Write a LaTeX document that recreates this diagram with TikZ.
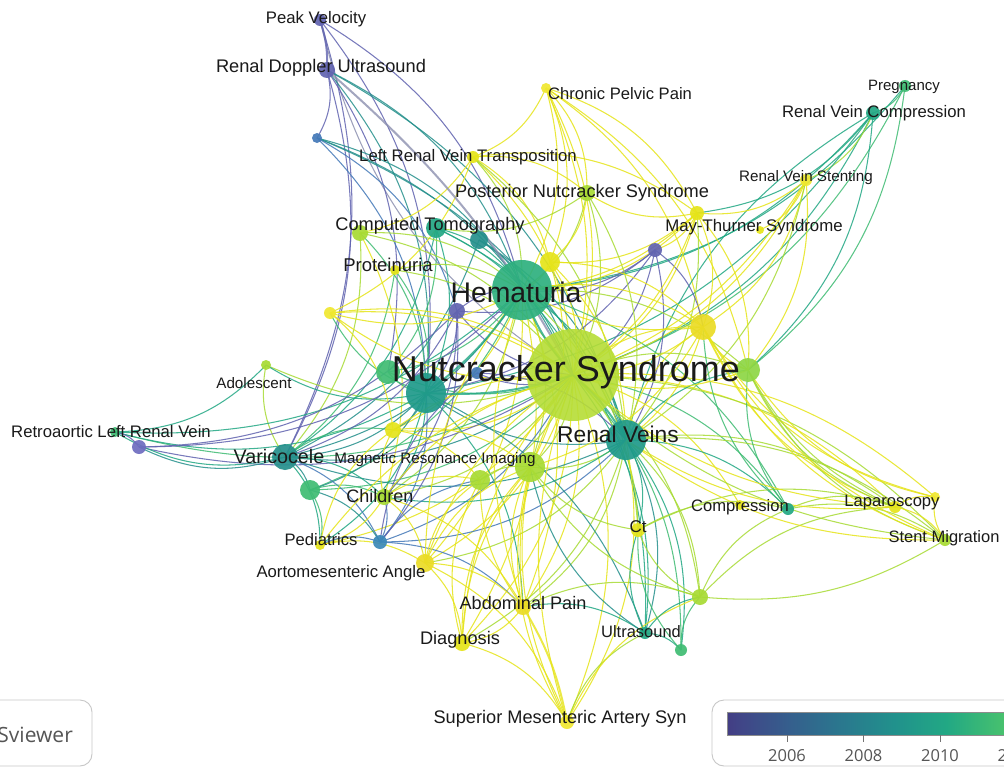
\documentclass[tikz,border=0pt]{standalone}
\usepackage{fontspec}
\setmainfont{Liberation Sans}
\newfontfamily\legfont{Open Sans}
\usetikzlibrary{backgrounds}
\newcommand\myfs[1]{\fontsize{#1}{#1}\selectfont}
\definecolor{cP}{HTML}{6163B0}
\definecolor{cP2}{HTML}{6E6CC0}
\definecolor{cB}{HTML}{4479B8}
\definecolor{cB2}{HTML}{3B88B8}
\definecolor{cT}{HTML}{25908C}
\definecolor{cT2}{HTML}{1F9A8A}
\definecolor{cTG}{HTML}{22A884}
\definecolor{cHem}{HTML}{2EB07E}
\definecolor{cG}{HTML}{3FBC73}
\definecolor{cGY}{HTML}{8ED645}
\definecolor{cYG}{HTML}{A8DB34}
\definecolor{cY}{HTML}{E6E419}
\definecolor{cY2}{HTML}{EBDC25}
\definecolor{cLY}{HTML}{F0E830}
\definecolor{cGray}{HTML}{8C90B0}
\definecolor{cNS}{HTML}{B6DD36}
\definecolor{txt}{HTML}{1A1A1A}
\definecolor{leg}{HTML}{555555}
\definecolor{v0}{HTML}{433D84}
\definecolor{v1}{HTML}{414487}
\definecolor{v2}{HTML}{355F8D}
\definecolor{v3}{HTML}{2A788E}
\definecolor{v4}{HTML}{21918C}
\definecolor{v5}{HTML}{22A884}
\definecolor{v6}{HTML}{44BF70}
\definecolor{v7}{HTML}{7AD151}
\tikzset{
  nd/.style={circle,inner sep=0pt,draw=none,fill opacity=0.92},
  lk/.style={line width=1.05pt,draw opacity=0.85},
  lkk/.style={line width=2pt,draw opacity=0.8},
  lb/.style={inner sep=0pt,text=txt},
  legbox/.style={draw=black!22,line width=0.9pt,rounded corners=12pt,fill=white}
}
\begin{document}
\begin{tikzpicture}[x=1pt,y=-1pt]
\useasboundingbox (0,0) rectangle (1004,768);
% nodes
\foreach \n/\x/\y/\r/\c in {
 hem/522/290/30/cHem, rv/626/440/20/cT2, var/285/457/13/cT, tl/426/393/20/cT2,
 gl/388/372/12/cG, pu1/457/311/8/cP, pu2/477/373/6/cB, y1/550/262/10/cY,
 tt/479/240/9/cT, ct1/436/228/10/cTG, ct0/360/233/8/cYG, prot/395/270/5/cY,
 lrvt/473/157/6/cY, pns/587/193/8/cYG, pv/320/20/6/cP, rdu/327/70/8/cP,
 bla/317/138/5/cB, cpp/546/88/5/cLY, preg/905/86/6/cG, rvc/873/113/7/cTG,
 rvs/806/180/6/cLY, mts/697/213/7/cY, mtsb/760/230/4/cY, pu3/655/250/7/cP,
 ya/703/327/13/cY2, gy/748/370/12/cGY, yc/330/313/6/cLY, adol/266/365/5/cYG,
 rlrv/115/432/5/cG, pu4/139/447/7/cP2, mria/393/430/8/cY, mrib/480/480/10/cYG,
 mric/530/467/15/cYG, chil/384/497/8/cYG, gc/310/490/10/cG, ped/320/545/5/cY,
 blb/380/542/7/cB2, aa/425/563/9/cY2, ap/523/607/8/cY2, diag/462/643/8/cY,
 sma/567/722/7/cLY, us/645/633/6/cTG, gg/681/650/6/cG, ygb/700/597/8/cYG,
 ctn/638/530/7/cY, comp/788/509/6/cTG, compy/740/505/5/cY, lap/895/507/6/cY,
 lapb/935/497/5/cLY, sm/945/540/6/cYG}
 {\node[nd,fill=\c,minimum size=2*\r] (\n) at (\x,\y) {};}
\node[nd,fill=cNS,minimum size=92,fill opacity=0.9] (ns) at (573,375) {};
% edges
\begin{scope}[on background layer]
\fill[white] (0,0) rectangle (1004,768);
\foreach \a/\b/\c in {
 pv/hem/cP, pv/tl/cP, pv/var/cP, ns/pv/cGray,
 rdu/hem/cT, rdu/tl/cT, rdu/var/cP, rdu/bla/cP, rdu/rv/cT, rdu/gl/cP,
 bla/hem/cT, bla/ns/cT, bla/tl/cB, bla/rv/cT, bla/pu1/cB,
 cpp/lrvt/cY, cpp/ns/cY, cpp/mts/cY, cpp/ya/cY, cpp/hem/cY, cpp/pns/cY, cpp/gy/cY, cpp/y1/cY,
 lrvt/ns/cY, lrvt/hem/cYG, lrvt/pns/cY, lrvt/yc/cY, lrvt/ct0/cY, lrvt/y1/cY, lrvt/rv/cYG, lrvt/mts/cY,
 preg/rvc/cG, preg/ns/cG, preg/hem/cTG, preg/gy/cG,
 rvc/ns/cTG, rvc/hem/cTG, rv/rvc/cTG, rvc/gy/cTG, rvc/mts/cTG, rvc/rvs/cYG, rvc/tl/cTG,
 rvs/mts/cY, rvs/ns/cY, rvs/ya/cY, rvs/rv/cYG, rvs/mtsb/cY, rvs/gy/cY,
 mts/ns/cY, mts/ya/cY, mts/hem/cY, mts/pns/cY, mts/rv/cYG, mts/gy/cY, mts/y1/cY, mts/pu3/cY,
 pu3/ns/cP, pu3/hem/cP, pu3/pu1/cP, pu3/rv/cP, pu3/ya/cP, pu3/tl/cP,
 pns/ns/cYG, pns/hem/cYG, pns/rv/cYG, pns/y1/cY, pns/ct1/cYG,
 ct1/ns/cTG, ct1/hem/cTG, ct1/tl/cTG, ct1/var/cTG, ct1/rv/cTG, ct1/gl/cG,
 ct0/ns/cYG, ct0/hem/cYG, ct0/var/cYG, ct0/tl/cG, ct0/chil/cY,
 tt/ns/cT, tt/hem/cT, tt/var/cT, tt/rv/cT,
 y1/ns/cY, y1/hem/cY, y1/rv/cY, y1/ya/cY, y1/mric/cY,
 prot/ns/cYG, prot/hem/cYG, prot/var/cG, prot/tl/cG,
 hem/rv/cTG, hem/var/cT, hem/gl/cG, hem/mric/cYG, hem/mria/cY, hem/chil/cYG, hem/ya/cY,
 hem/gy/cYG, hem/ctn/cYG, hem/us/cTG, hem/ap/cY, hem/diag/cY, hem/aa/cY, hem/yc/cY, hem/gc/cG, hem/comp/cG,
 ns/gl/cG, ns/var/cT, ns/ya/cY, ns/gy/cYG, ns/mria/cY, ns/mrib/cYG, ns/mric/cYG, ns/chil/cYG,
 ns/gc/cG, ns/ped/cY, ns/blb/cB, ns/aa/cY, ns/ap/cY, ns/diag/cY, ns/sma/cY, ns/us/cTG, ns/gg/cG,
 ns/ygb/cYG, ns/ctn/cYG, ns/comp/cG, ns/compy/cY, ns/lap/cY, ns/lapb/cY, ns/sm/cYG, ns/adol/cYG,
 ns/yc/cY, ns/rlrv/cG, ns/pu4/cP, ns/pu2/cP, ns/pu1/cP,
 rv/tl/cT, rv/var/cT, rv/gy/cTG, rv/ya/cY, rv/mric/cYG, rv/chil/cTG, rv/us/cT, rv/gg/cTG, rv/ygb/cYG,
 rv/ctn/cTG, rv/comp/cTG, rv/lap/cYG, rv/sm/cYG, rv/ap/cYG, rv/diag/cYG, rv/sma/cY, rv/aa/cYG, rv/blb/cB,
 tl/var/cT, tl/gl/cG, tl/chil/cTG, tl/mria/cT, tl/gc/cT, tl/ped/cTG, tl/blb/cB, tl/rlrv/cTG, tl/adol/cTG,
 tl/yc/cG, tl/us/cT, tl/ap/cTG,
 var/gc/cT, var/chil/cTG, var/ped/cTG, var/blb/cB, var/rlrv/cTG, var/pu4/cT, var/adol/cYG, var/mria/cG,
 rlrv/pu4/cP, hem/rlrv/cTG, hem/pu4/cP, pu1/pu4/cP, adol/rlrv/cTG,
 yc/ns/cY, yc/mria/cY,
 gc/chil/cG, gc/ped/cG, gc/blb/cT,
 chil/mrib/cY, chil/aa/cY, chil/ap/cY, chil/ped/cY, chil/mria/cY, chil/blb/cB,
 ped/aa/cY, ped/blb/cB, ped/mria/cY,
 blb/ap/cB, blb/pu2/cP, blb/mrib/cB,
 aa/ap/cY, aa/diag/cY, aa/mrib/cY, aa/mric/cY, aa/sma/cY,
 ap/diag/cY, ap/mric/cY, ap/us/cTG, ap/ygb/cYG,
 diag/sma/cY, diag/mrib/cY, diag/mric/cY,
 sma/mric/cY, sma/us/cYG, sma/ygb/cY,
 us/gg/cTG, us/ctn/cTG, us/ygb/cTG, us/mric/cT,
 gg/ygb/cG, gg/ctn/cG,
 ygb/ctn/cYG, ygb/comp/cYG, ygb/mric/cYG, ygb/lap/cYG,
 ctn/comp/cYG, ctn/mric/cYG, ctn/lap/cYG,
 comp/lap/cYG, comp/gy/cG, comp/ya/cG, comp/sm/cYG,
 lap/lapb/cY, lap/sm/cY, lap/ya/cY, lap/gy/cYG, lapb/gy/cY, lapb/ya/cY,
 sm/gy/cYG, sm/ya/cY, sm/lapb/cY,
 gy/ya/cY, ya/mric/cY,
 mria/mrib/cY, mrib/mric/cYG, mria/mric/cY,
 pu1/hem/cP, pu1/tl/cP, pu1/var/cP, pu1/chil/cP, pu1/blb/cP, pu2/rv/cP}
 {\draw[lk,\c] (\a.center) to[bend left=22] (\b.center);}
\foreach \a/\b/\c in {
 ns/sma/cY, ns/ap/cY, ns/diag/cY, ns/aa/cY, ns/lap/cY, ns/sm/cYG, ns/gy/cY, ns/ya/cY,
 ns/cpp/cY, ns/mts/cY, ns/rvs/cY, ns/ped/cY, ns/chil/cY, ns/mria/cY, ns/yc/cY,
 hem/ya/cY, hem/mts/cY, hem/ap/cY, hem/aa/cY, rv/lap/cY, rv/sm/cY, rv/ya/cY,
 mric/sma/cY, mric/diag/cY, mrib/ap/cY, ya/sm/cY, gy/lap/cYG, ygb/sm/cYG}
 {\draw[lk,\c] (\a.center) to[bend right=18] (\b.center);}
\foreach \a/\b/\c in {
 ns/hem/cTG, ns/rv/cTG, ns/tl/cTG, rdu/ns/cGray, pv/rdu/cP, ap/sma/cY, hem/tl/cTG}
 {\draw[lkk,\c] (\a.center) to[bend left=10] (\b.center);}
\end{scope}
% labels
\node[lb,font=\myfs{36}] (tNS) at (566,372) {Nutcracker Syndrome};
\node[lb,font=\myfs{28.4}] (tHem) at (516,292) {Hematuria};
\node[lb,font=\myfs{22.8}] (tRV) at (618,434) {Renal Veins};
\node[lb,font=\myfs{19.7}] (tVar) at (279,456) {Varicocele};
\node[lb,font=\myfs{18.2}] (tCT) at (430,226) {Computed Tomography};
\node[lb,font=\myfs{18.5}] (tProt) at (388,265) {Proteinuria};
\node[lb,font=\myfs{16.7}] (tLRVT) at (468,157) {Left Renal Vein Transposition};
\node[lb,font=\myfs{18.2}] (tPNS) at (582,193) {Posterior Nutcracker Syndrome};
\node[lb,font=\myfs{16.7}] (tPV) at (316,19) {Peak Velocity};
\node[lb,font=\myfs{18.25}] (tRDU) at (321,68) {Renal Doppler Ultrasound};
\node[lb,font=\myfs{16.6}] (tCPP) at (620,94) {Chronic Pelvic Pain};
\node[lb,font=\myfs{15}] (tPreg) at (904,87) {Pregnancy};
\node[lb,font=\myfs{16.7}] (tRVC) at (874,113) {Renal Vein Compression};
\node[lb,font=\myfs{15.2}] (tRVS) at (806,178) {Renal Vein Stenting};
\node[lb,font=\myfs{16.8}] (tMTS) at (754,227) {May-Thurner Syndrome};
\node[lb,font=\myfs{15.2}] (tAdol) at (254,383) {Adolescent};
\node[lb,font=\myfs{16.7}] (tRLRV) at (111,432) {Retroaortic Left Renal Vein};
\node[lb,font=\myfs{15.2}] (tMRI) at (435,460) {Magnetic Resonance Imaging};
\node[lb,font=\myfs{18}] (tChil) at (380,496) {Children};
\node[lb,font=\myfs{16.6}] (tPed) at (321,540) {Pediatrics};
\node[lb,font=\myfs{16.7}] (tAA) at (341,573) {Aortomesenteric Angle};
\node[lb,font=\myfs{18.1}] (tAP) at (523,603) {Abdominal Pain};
\node[lb,font=\myfs{18.2}] (tDiag) at (460,640) {Diagnosis};
\node[lb,font=\myfs{18.2}] (tSMA) at (560,719) {Superior Mesenteric Artery Syn};
\node[lb,font=\myfs{16.5}] (tUS) at (641,632) {Ultrasound};
\node[lb,font=\myfs{17}] (tCt) at (638,527) {Ct};
\node[lb,font=\myfs{16.6}] (tComp) at (740,507) {Compression};
\node[lb,font=\myfs{16.6}] (tLap) at (892,503) {Laparoscopy};
\node[lb,font=\myfs{16.5}] (tSM) at (944,538) {Stent Migration};
% legend
\begin{scope}
\clip (0,0) rectangle (1004,768);
\draw[legbox] (-40,700) rectangle (92,766);
\node[anchor=east,inner sep=0pt,text=leg,font=\legfont\myfs{21}] (vos) at (73,735) {VOSviewer};
\draw[legbox] (712,700) rectangle (1060,766);
\shade[left color=v0,right color=v1] (727,712) rectangle (737.5,735);
\shade[left color=v1,right color=v2] (737.5,712) rectangle (789.7,735);
\shade[left color=v2,right color=v3] (789.7,712) rectangle (842,735);
\shade[left color=v3,right color=v4] (842,712) rectangle (894,735);
\shade[left color=v4,right color=v5] (894,712) rectangle (946.5,735);
\shade[left color=v5,right color=v6] (946.5,712) rectangle (998.8,735);
\shade[left color=v6,right color=v7] (998.8,712) rectangle (1051,735);
\draw[black!45,line width=0.6pt] (727,712) rectangle (1051,735);
\foreach \x/\t in {787/2006,863.5/2008,940/2010,1016.5/2012}
 {\draw[black!55,line width=0.8pt] (\x,735) -- (\x,742);
  \node[inner sep=0pt,text=leg,font=\legfont\myfs{16.5}] at (\x,756) {\t};}
\end{scope}
\end{tikzpicture}
\end{document}
